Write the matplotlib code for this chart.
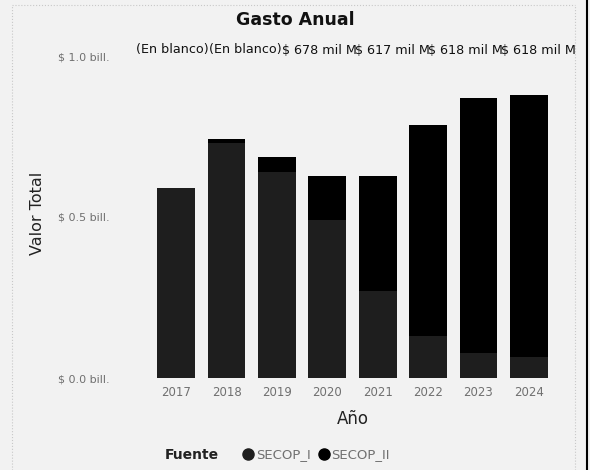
import matplotlib.pyplot as plt
from matplotlib.lines import Line2D

years = ['2017', '2018', '2019', '2020', '2021', '2022', '2023', '2024']
secop_i = [0.59, 0.73, 0.64, 0.49, 0.27, 0.13, 0.078, 0.065]
secop_ii = [0.0, 0.012, 0.047, 0.137, 0.357, 0.656, 0.792, 0.814]
y_ticks = [0.0, 0.5, 1.0]
y_tick_labels = ['$ 0.0 bill.', '$ 0.5 bill.', '$ 1.0 bill.']
top_labels = ['(En blanco)', '(En blanco)', '$ 678 mil M', '$ 617 mil M',
              '$ 618 mil M', '$ 618 mil M']

bg = '#f2f2f2'
color_i = '#1e1e1e'
color_ii = '#000000'
gray = '#707070'

fig = plt.figure(figsize=(5.9, 4.7), dpi=100, facecolor=bg)
ax = fig.add_axes([151 / 590, 92 / 470, 403 / 590, 322 / 470])
ax.set_facecolor(bg)

x = range(len(years))
ax.bar(x, secop_i, width=0.75, color=color_i, label='SECOP_I')
ax.bar(x, secop_ii, width=0.75, bottom=secop_i, color=color_ii, label='SECOP_II')

ax.set_xlim(-0.5, len(years) - 0.5)
ax.set_ylim(0, 1.0)
ax.set_xticks(list(x))
ax.set_xticklabels(years, color=gray, fontsize=8.5)
ax.set_yticks(y_ticks)
ax.set_yticklabels(y_tick_labels, color=gray, fontsize=8)
ax.tick_params(axis='y', length=0, pad=30)
ax.tick_params(axis='x', length=0, pad=6)
for s in ax.spines.values():
    s.set_visible(False)

ax.set_xlabel('Año', fontsize=12, color='#222222', labelpad=8)
fig.text(37 / 590, 1 - 213 / 470, 'Valor Total', rotation=90, fontsize=11.5,
         color='#222222', ha='center', va='center')
fig.text(0.5, 1 - 20 / 470, 'Gasto Anual', fontsize=12.5, fontweight='bold',
         ha='center', va='center', color='#111111')

# overlapping data labels across the top
for i, lab in enumerate(top_labels):
    fig.text((136 + i * 73) / 590, 1 - 50 / 470, lab, fontsize=9.2,
             ha='left', va='center', color='#111111')

# legend
fig.text(165 / 590, 1 - 455 / 470, 'Fuente', fontsize=10, fontweight='bold',
         ha='left', va='center', color='#222222')
handles = [Line2D([], [], marker='o', ls='', color=color_i, markersize=8),
           Line2D([], [], marker='o', ls='', color=color_ii, markersize=8)]
leg = fig.legend(handles, ['SECOP_I', 'SECOP_II'], loc='center left',
                 bbox_to_anchor=(228 / 590, 1 - 455 / 470), ncol=2, frameon=False,
                 handletextpad=0.0, columnspacing=0.4, fontsize=9.5,
                 handlelength=1.2)
for t in leg.get_texts():
    t.set_color(gray)

# frame lines
fig.add_artist(Line2D([12 / 590, 12 / 590], [0, 1 - 5 / 470], transform=fig.transFigure,
                      color='#c8c8c8', lw=0.8, ls=':'))
fig.add_artist(Line2D([575 / 590, 575 / 590], [0, 1 - 5 / 470], transform=fig.transFigure,
                      color='#c8c8c8', lw=0.8, ls=':'))
fig.add_artist(Line2D([12 / 590, 575 / 590], [1 - 5 / 470, 1 - 5 / 470],
                      transform=fig.transFigure, color='#c8c8c8', lw=0.8, ls=':'))
fig.add_artist(Line2D([587 / 590, 587 / 590], [0, 1], transform=fig.transFigure,
                      color='#000000', lw=1.5))

fig.savefig('out.png', dpi=100, facecolor=bg)
